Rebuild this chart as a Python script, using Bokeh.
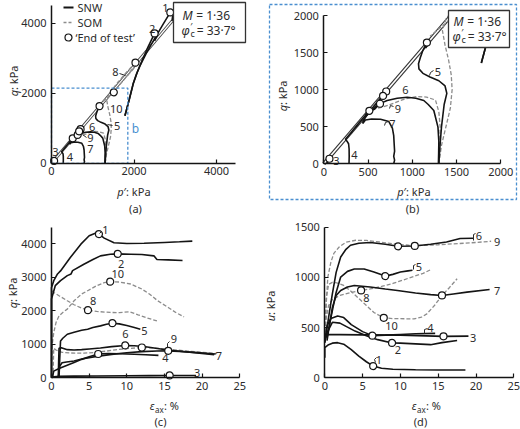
import numpy as np
from bokeh.plotting import figure
from bokeh.models import Range1d, LinearAxis, FixedTicker
from bokeh.layouts import column, row
from bokeh.embed import file_html
from bokeh.resources import INLINE
from bokeh.core.properties import value

# ============================ DATA ============================
snw_tests = ["1", "2", "3", "4", "5", "6", "7"]
som_tests = ["8", "9", "10"]
csl_M = 1.39          # slope of the drawn critical state line
csl_pmax_a = 2930     # end of CSL in panel (a), p' kPa

# (a)/(b) effective stress paths  p' (kPa), q (kPa)
sp1_p = [1780, 1880, 1980, 2060, 2150, 2300, 2500, 2700, 2880, 2940, 2920]
sp1_q = [1360, 1800, 2270, 2550, 2800, 3150, 3560, 3960, 4310, 4230, 4060]
sp2_p = [1780, 1880, 1980, 2080, 2200, 2350, 2500, 2560, 2500]
sp2_q = [1360, 1800, 2270, 2600, 2950, 3350, 3712, 3650, 3500]
sp3_p = [40, 45, 52, 60, 64]
sp3_q = [0, 20, 45, 60, 68]
sp4_p = [285, 287, 286, 280, 262, 245, 300, 380, 450, 515, 500, 470]
sp4_q = [0, 100, 200, 270, 305, 330, 410, 525, 625, 715, 700, 660]
sp5_p = [1300, 1310, 1330, 1360, 1390, 1370, 1300, 1200, 1120, 1075, 1070, 1090, 1120, 1150, 1165, 1185, 1150]
sp5_q = [0, 200, 500, 800, 950, 1050, 1120, 1170, 1220, 1280, 1350, 1430, 1530, 1600, 1635, 1620, 1560]
sp6_p = [1295, 1298, 1300, 1290, 1243, 1180, 1130, 1040, 942, 830, 716, 640, 615, 655, 705, 670, 620, 560, 510]
sp6_q = [0, 150, 300, 494, 719, 800, 854, 885, 898, 885, 854, 815, 835, 900, 975, 920, 855, 770, 700]
sp7_p = [790, 800, 790, 800, 795, 790, 775, 735, 641, 540, 470, 440, 445, 480, 540, 590, 635, 610, 570, 530]
sp7_q = [0, 50, 100, 170, 270, 380, 480, 570, 600, 605, 590, 545, 580, 645, 720, 775, 810, 780, 735, 710]
sp8_p = [2100, 1950, 1800, 1650, 1511, 1400, 1300, 1200]
sp8_q = [2850, 2650, 2450, 2240, 2029, 1920, 1820, 1720]
sp9_p = [1305, 1310, 1315, 1300, 1262, 1160, 1055, 904, 754, 650, 580, 545, 580, 630, 670, 640, 600, 540]
sp9_q = [0, 250, 500, 700, 860, 900, 908, 870, 800, 760, 745, 740, 790, 860, 915, 880, 820, 735]
sp10_p = [1300, 1330, 1380, 1430, 1450, 1440, 1410, 1370, 1340, 1380, 1480, 1620, 1780, 1920, 2036, 2060, 1950, 1800]
sp10_q = [0, 250, 500, 750, 1000, 1200, 1400, 1600, 1800, 1950, 2120, 2330, 2550, 2730, 2875, 2850, 2680, 2450]
end_p = [2880, 2500, 64, 515, 1165, 705, 635, 1511, 670, 2036]
end_q = [4310, 3712, 68, 715, 1635, 975, 810, 2029, 915, 2875]

# (c) deviator stress q (kPa) vs axial strain (%)
c1_e = [0, 0, 0.3, 0.8, 1.2, 2.5, 3.9, 5.0, 5.9, 6.3, 7.0, 8.3, 10.0, 12.3, 15.0, 17.0, 18.7]
c1_q = [0, 2690, 2900, 3100, 3190, 3590, 3990, 4240, 4320, 4290, 4170, 4030, 4010, 4015, 4040, 4060, 4080]
c2_e = [0, 0, 0.5, 1.2, 2.1, 2.6, 2.8, 4.3, 5.5, 6.5, 7.8, 8.8, 10.5, 12.0, 13.6, 14.0, 15.5, 17.4]
c2_q = [0, 2350, 2750, 2900, 3050, 3100, 3200, 3390, 3530, 3640, 3690, 3700, 3690, 3680, 3640, 3530, 3520, 3500]
c3_e = [0, 0.3, 1.0, 3.0, 6.0, 10.0, 13.0, 15.7, 19.2]
c3_q = [0, 30, 45, 50, 55, 60, 65, 70, 70]
c4_e = [0.1, 0.3, 1.0, 2.0, 3.0, 4.0, 5.0, 6.2, 7.5, 9.0, 11.0, 12.5, 14.2]
c4_q = [0, 200, 280, 370, 460, 550, 630, 710, 725, 720, 705, 690, 670]
c5_e = [1.0, 1.1, 1.2, 1.5, 2.1, 3.0, 4.0, 4.8, 5.5, 6.5, 7.3, 8.1, 9.0, 10.0, 11.0, 11.8]
c5_q = [0, 600, 1100, 1180, 1300, 1360, 1420, 1450, 1500, 1550, 1600, 1630, 1610, 1560, 1500, 1450]
c6_e = [0.9, 0.95, 1.0, 1.3, 2.1, 3.0, 4.0, 5.0, 6.5, 8.0, 9.8, 11.0, 12.5, 15.4, 18.0, 21.6]
c6_q = [0, 500, 880, 900, 840, 830, 840, 860, 890, 930, 965, 955, 925, 830, 770, 690]
c7_e = [0.9, 1.0, 1.1, 1.4, 2.0, 3.0, 4.0, 6.0, 8.0, 10.0, 12.0, 14.0, 15.5, 17.0, 19.0, 21.8]
c7_q = [0, 200, 350, 450, 470, 500, 560, 640, 700, 750, 780, 800, 805, 790, 760, 710]
c8_e = [0.05, 0.3, 1.0, 2.1, 3.0, 4.0, 4.85, 6.0, 7.8, 9.0, 10.4, 11.5, 12.5, 14.0]
c8_q = [2600, 2546, 2450, 2300, 2180, 2080, 2020, 1980, 1950, 1945, 1970, 1880, 1800, 1700]
c9_e = [0.2, 0.3, 0.6, 1.4, 2.5, 4.3, 6.0, 7.4, 9.0, 10.5, 12.0, 13.5, 15.4, 18.0, 22.0]
c9_q = [0, 880, 830, 760, 740, 735, 760, 800, 850, 880, 905, 890, 856, 800, 726]
c10_e = [0, 0.1, 0.3, 0.6, 1.0, 1.5, 2.1, 3.0, 4.0, 4.8, 6.0, 7.0, 7.8, 9.0, 10.5, 12.0, 13.0, 14.1, 15.5, 16.5, 17.6]
c10_q = [500, 1000, 1350, 1650, 1850, 1950, 2050, 2300, 2500, 2600, 2750, 2840, 2870, 2860, 2800, 2650, 2500, 2300, 2100, 1950, 1820]
endc_e = [6.3, 8.8, 15.7, 6.2, 8.1, 9.8, 15.5, 4.85, 12.0, 7.8]
endc_q = [4290, 3700, 70, 710, 1630, 965, 805, 2020, 905, 2870]

# (d) pore pressure u (kPa) vs axial strain (%)
d1_e = [0, 0, 0.5, 1.0, 1.7, 2.5, 3.5, 4.5, 5.5, 6.4, 7.5, 9.0, 12.0, 15.0, 18.6]
d1_u = [200, 300, 330, 345, 350, 335, 280, 215, 160, 117, 95, 85, 80, 78, 78]
d2_e = [0, 0.3, 1.0, 2.0, 3.0, 4.0, 5.5, 7.0, 8.9, 10.0, 12.0, 14.0, 15.5, 17.5]
d2_u = [350, 450, 553, 545, 505, 465, 420, 380, 347, 345, 338, 330, 350, 372]
d3_e = [0, 0.3, 2.0, 5.0, 10.0, 15.7, 19.0]
d3_u = [400, 430, 430, 428, 425, 413, 415]
d4_e = [0, 0.3, 0.8, 1.7, 2.5, 3.5, 5.0, 6.3, 8.0, 10.0, 12.0, 14.6]
d4_u = [350, 520, 590, 615, 600, 530, 460, 420, 425, 432, 438, 442]
d5_e = [0.3, 0.6, 1.0, 1.5, 2.1, 3.0, 3.9, 5.2, 6.5, 8.0, 9.0, 10.0, 11.0, 11.6]
d5_u = [370, 520, 670, 850, 1003, 1060, 1083, 1083, 1053, 1013, 1030, 1053, 1065, 1072]
d6_e = [0, 0.3, 0.6, 1.0, 1.5, 2.1, 2.8, 3.4, 4.5, 6.0, 8.0, 9.7, 11.9, 14.0, 16.1, 17.9, 19.6]
d6_u = [370, 500, 650, 837, 1050, 1203, 1280, 1320, 1340, 1347, 1330, 1310, 1313, 1330, 1353, 1387, 1390]
d7_e = [0.3, 0.6, 1.0, 1.5, 2.1, 3.0, 3.9, 6.0, 8.0, 9.6, 12.0, 14.0, 15.5, 17.0, 18.8, 21.8]
d7_u = [400, 520, 700, 820, 870, 905, 920, 905, 885, 870, 845, 828, 820, 835, 853, 880]
d8_e = [0, 0.2, 0.5, 1.0, 2.0, 3.5, 4.8, 6.0, 7.5, 9.0, 11.0, 13.0, 14.0]
d8_u = [400, 600, 720, 780, 820, 850, 870, 885, 910, 940, 990, 1040, 1077]
d9_e = [0, 0.2, 0.4, 0.8, 1.2, 1.9, 2.8, 4.1, 5.5, 7.2, 9.0, 11.1, 13.0, 15.0, 17.7, 20.0, 22.0]
d9_u = [400, 750, 1003, 1150, 1240, 1303, 1350, 1370, 1368, 1353, 1335, 1320, 1318, 1325, 1337, 1348, 1360]
d10_e = [0, 0.2, 0.5, 1.0, 1.6, 2.5, 3.5, 4.5, 5.5, 6.5, 7.8, 9.0, 10.5, 11.8, 12.8, 13.5, 14.5, 15.5, 16.5, 17.5]
d10_u = [400, 800, 930, 950, 945, 920, 860, 790, 720, 650, 597, 590, 588, 587, 605, 637, 720, 820, 900, 987]
endd_e = [6.4, 8.9, 15.7, 6.3, 8.0, 9.7, 15.5, 4.8, 11.9, 7.8]
endd_u = [117, 347, 413, 420, 1013, 1310, 820, 870, 1313, 597]

# axis ticks
ticks_a = [0, 2000, 4000]
ticks_b = [0, 500, 1000, 1500, 2000]
ticks_q_c = [0, 1000, 2000, 3000, 4000]
ticks_u_d = [0, 500, 1000, 1500]
ticks_eps = [0, 5, 10, 15, 20, 25]

# ============================ STYLE / LAYOUT ============================
FONT = "Noto Sans"
TXT = "#2b2b2b"
BLK = "#141414"
GRY = "#8c8c8c"
BLUE = "#4a8fd0"

# panel geometry (global pixel of data origin and pixel per unit)
PA = dict(gx0=0, gy0=0, W=260, H=217, ox=51.0, oy=162.8, sx=0.04125, sy=0.035)
PB = dict(gx0=260, gy0=0, W=260, H=217, ox=323.3, oy=163.3, sx=0.0885, sy=0.07415)
PC = dict(gx0=0, gy0=217, W=260, H=212, ox=51.0, oy=377.3, sx=7.53, sy=0.0335)
PD = dict(gx0=260, gy0=217, W=260, H=212, ox=324.3, oy=377.3, sx=7.56, sy=0.1004)


def dx(P, gx):
    return (gx - P["ox"]) / P["sx"]


def dy(P, gy):
    return (P["oy"] - gy) / P["sy"]


def make_fig(P):
    xr = Range1d(dx(P, P["gx0"]), dx(P, P["gx0"] + P["W"]))
    yr = Range1d(dy(P, P["gy0"] + P["H"]), dy(P, P["gy0"]))
    p = figure(width=P["W"], height=P["H"], x_range=xr, y_range=yr,
               output_backend="svg", toolbar_location=None,
               x_axis_location=None, y_axis_location=None,
               min_border_left=0, min_border_right=0, min_border_top=0, min_border_bottom=0)
    p.outline_line_color = None
    p.grid.grid_line_color = None
    p.background_fill_color = "white"
    p.border_fill_color = "white"
    return p


def add_axes(p, xticks, xb, yticks, yb):
    xa = LinearAxis(fixed_location=0, bounds=xb, ticker=FixedTicker(ticks=xticks, minor_ticks=[]))
    ya = LinearAxis(fixed_location=0, bounds=yb, ticker=FixedTicker(ticks=yticks, minor_ticks=[]))
    for a in (xa, ya):
        a.axis_line_color = BLK
        a.axis_line_width = 1.5
        a.major_tick_line_color = BLK
        a.major_tick_line_width = 1.2
        a.major_tick_in = 4
        a.major_tick_out = 0
        a.minor_tick_line_color = None
        a.major_label_text_font = FONT
        a.major_label_text_font_size = "11px"
        a.major_label_text_color = TXT
    xa.major_label_standoff = 4
    ya.major_label_standoff = 5
    p.add_layout(xa, "below")
    p.add_layout(ya, "left")


def txt(p, P, gx, gy, s, size=11, align="center", base="middle", style="normal",
        color=TXT, angle=0.0):
    p.text(x=[dx(P, gx)], y=[dy(P, gy)], text=[s], text_font=value(FONT),
           text_font_size=f"{size}px", text_align=align, text_baseline=base,
           text_font_style=style, text_color=color, angle=angle)


def seg(p, P, pts, color=TXT, width=1.0, dash="solid"):
    p.line([dx(P, a) for a, b in pts], [dy(P, b) for a, b in pts],
           line_color=color, line_width=width, line_dash=dash)


def ylabel(p, P, gx, gj, sym):
    txt(p, P, gx, gj, sym, style="italic", align="right", angle=np.pi / 2)
    txt(p, P, gx, gj, ": kPa", align="left", angle=np.pi / 2)


def xlabel_p(p, P, gj, gy):
    txt(p, P, gj, gy, "p", style="italic", align="right")
    txt(p, P, gj, gy, "\u2032: kPa", align="left")


def xlabel_eps(p, P, gj, gy):
    txt(p, P, gj, gy, "\u03b5", style="italic", align="right")
    txt(p, P, gj + 0.5, gy + 3.5, "ax", size=8, align="left")
    txt(p, P, gj + 9.5, gy, ": %", align="left")


def mbox(p, P, l, t, r, b, tx, y1, y2):
    xs = [dx(P, l), dx(P, r), dx(P, r), dx(P, l), dx(P, l)]
    ys = [dy(P, t), dy(P, t), dy(P, b), dy(P, b), dy(P, t)]
    p.patch(xs, ys, fill_color="white", line_color="#333333", line_width=1.3)
    j = tx + 10.5
    txt(p, P, j, y1, "M", size=12, style="italic", align="right")
    txt(p, P, j + 3.5, y1, "= 1\u00b736", size=12, align="left")
    j2 = tx + 7.5
    txt(p, P, j2, y2, "\u03c6", size=12, style="italic", align="right")
    txt(p, P, j2 + 0.5, y2 - 4, "\u2032", size=9, align="left")
    txt(p, P, j2 + 0.8, y2 + 3, "c", size=9, align="left")
    txt(p, P, j2 + 7, y2, "= 33\u00b77\u00b0", size=12, align="left")


def clip_path(xs, ys, x0, x1, y0, y1):
    ox, oy = [], []
    for i in range(len(xs) - 1):
        ax, ay, bx, by = xs[i], ys[i], xs[i + 1], ys[i + 1]
        ddx, ddy = bx - ax, by - ay
        t0, t1, ok = 0.0, 1.0, True
        for pk, qk in ((-ddx, ax - x0), (ddx, x1 - ax), (-ddy, ay - y0), (ddy, y1 - ay)):
            if pk == 0:
                if qk < 0:
                    ok = False
                    break
            else:
                r = qk / pk
                if pk < 0:
                    if r > t1:
                        ok = False
                        break
                    t0 = max(t0, r)
                else:
                    if r < t0:
                        ok = False
                        break
                    t1 = min(t1, r)
        if not ok:
            continue
        sx_, sy_ = ax + t0 * ddx, ay + t0 * ddy
        ex, ey = ax + t1 * ddx, ay + t1 * ddy
        if ox and not np.isnan(ox[-1]) and abs(ox[-1] - sx_) < 1e-6 and abs(oy[-1] - sy_) < 1e-6:
            ox.append(ex)
            oy.append(ey)
        else:
            if ox:
                ox.append(np.nan)
                oy.append(np.nan)
            ox += [sx_, ex]
            oy += [sy_, ey]
    return ox, oy


paths = {
    "1": (sp1_p, sp1_q), "2": (sp2_p, sp2_q), "3": (sp3_p, sp3_q), "4": (sp4_p, sp4_q),
    "5": (sp5_p, sp5_q), "6": (sp6_p, sp6_q), "7": (sp7_p, sp7_q), "8": (sp8_p, sp8_q),
    "9": (sp9_p, sp9_q), "10": (sp10_p, sp10_q),
}
curves_c = {
    "1": (c1_e, c1_q), "2": (c2_e, c2_q), "3": (c3_e, c3_q), "4": (c4_e, c4_q),
    "5": (c5_e, c5_q), "6": (c6_e, c6_q), "7": (c7_e, c7_q), "8": (c8_e, c8_q),
    "9": (c9_e, c9_q), "10": (c10_e, c10_q),
}
curves_d = {
    "1": (d1_e, d1_u), "2": (d2_e, d2_u), "3": (d3_e, d3_u), "4": (d4_e, d4_u),
    "5": (d5_e, d5_u), "6": (d6_e, d6_u), "7": (d7_e, d7_u), "8": (d8_e, d8_u),
    "9": (d9_e, d9_u), "10": (d10_e, d10_u),
}


def draw_curve(p, key, xs, ys):
    if key in som_tests:
        p.line(xs, ys, line_color=GRY, line_width=1.3, line_dash="4 2")
    else:
        p.line(xs, ys, line_color=BLK, line_width=1.6)


def circles(p, xs, ys):
    p.scatter(xs, ys, marker="circle", size=7, fill_color="white", line_color=BLK, line_width=1.2)


# ============================ PANEL (a) ============================
pa = make_fig(PA)
add_axes(pa, ticks_a, (0, 4450), ticks_a, (0, 4500))
csl_x = [0, csl_pmax_a]
pa.line(csl_x, [csl_M * v for v in csl_x], line_color="#444444", line_width=3.0)
pa.line(csl_x, [csl_M * v for v in csl_x], line_color="white", line_width=1.2)
for k in som_tests + snw_tests:
    draw_curve(pa, k, *paths[k])
circles(pa, end_p, end_q)
# zoom window marker
pa.line([0, 1850, 1850, 0], [2150, 2150, 0, 0], line_color=BLUE, line_width=1.3, line_dash="3 2")
pa.line([0, 0], [0, 2150], line_color=BLUE, line_width=1.3, line_dash="3 2")
txt(pa, PA, 135, 128, "b", size=12, color=BLUE)
mbox(pa, PA, 173, 2, 245, 42, 181.7, 15, 30)
# legend
seg(pa, PA, [(63, 7), (73, 7)], color=BLK, width=2)
txt(pa, PA, 77, 7, "SNW", align="left")
seg(pa, PA, [(63, 22), (73, 22)], color=GRY, width=1.3, dash="3 2")
txt(pa, PA, 77, 22, "SOM", align="left")
pa.scatter([dx(PA, 68)], [dy(PA, 37)], marker="circle", size=7, fill_color="white", line_color=BLK, line_width=1.2)
txt(pa, PA, 75, 37, "\u2018End of test\u2019", align="left")
for s, gx, gy in [("1", 165, 7), ("2", 151.7, 28.3), ("8", 115, 71.7), ("10", 115.7, 108.3),
                  ("5", 116.7, 125), ("6", 91.7, 126.7), ("9", 90, 137.3), ("7", 90, 148.3),
                  ("3", 55, 151.7), ("4", 69.3, 156.7)]:
    txt(pa, PA, gx, gy, s)
seg(pa, PA, [(119, 73), (125, 75)])
seg(pa, PA, [(112, 125), (107, 124)])
seg(pa, PA, [(86, 137), (82, 134)])
ylabel(pa, PA, 13, 89.5, "q")
xlabel_p(pa, PA, 123, 191)
txt(pa, PA, 135, 208, "(a)")

# ============================ PANEL (b) ============================
pb = make_fig(PB)
add_axes(pb, ticks_b, (0, 2000), ticks_b, (0, 2000))
cx, cy = clip_path([0, csl_pmax_a], [0, csl_M * csl_pmax_a], -50, 2000, -50, 2000)
pb.line(cx, cy, line_color="#333333", line_width=3.8)
pb.line(cx, cy, line_color="white", line_width=1.6)
for k in som_tests + snw_tests:
    xs, ys = clip_path(paths[k][0], paths[k][1], -50, 2000, -50, 2000)
    draw_curve(pb, k, xs, ys)
bp = [a for a, b in zip(end_p, end_q) if a <= 2000 and b <= 2000]
bq = [b for a, b in zip(end_p, end_q) if a <= 2000 and b <= 2000]
circles(pb, bp, bq)
mbox(pb, PB, 448, 10, 509, 47, 452.7, 21, 36)
for s, gx, gy in [("3", 336, 160.7), ("4", 354, 154), ("7", 392, 123.3), ("9", 397.5, 108.3),
                  ("6", 405, 89.3), ("5", 437.5, 71.7)]:
    txt(pb, PB, gx, gy, s)
seg(pb, PB, [(433, 70), (430, 72), (429, 75)])
seg(pb, PB, [(393, 106), (390, 105), (389, 108)])
seg(pb, PB, [(388, 121), (385, 122), (384, 125)])
ylabel(pb, PB, 282, 104.5, "q")
xlabel_p(pb, PB, 403, 191)
txt(pb, PB, 412, 208, "(b)")
# dashed frame around panel (b)
bx = [dx(PB, v) for v in (269, 516, 516, 269, 269)]
by = [dy(PB, v) for v in (4, 4, 199, 199, 4)]
pb.line(bx, by, line_color=BLUE, line_width=1.3, line_dash="3 2")

# ============================ PANEL (c) ============================
pc = make_fig(PC)
add_axes(pc, ticks_eps, (0, 25), ticks_q_c, (0, 4500))
for k in som_tests + snw_tests:
    draw_curve(pc, k, *curves_c[k])
circles(pc, endc_e, endc_q)
for s, gx, gy in [("1", 105, 229.3), ("2", 120.7, 263.3), ("10", 117.3, 273.3), ("8", 92.7, 300.7),
                  ("5", 144, 330), ("6", 125, 333), ("9", 173.3, 338.3), ("7", 218.3, 355),
                  ("4", 165, 357.7), ("3", 196.7, 372.7)]:
    txt(pc, PC, gx, gy, s)
seg(pc, PC, [(101, 231), (99, 233)])
seg(pc, PC, [(169, 341), (167, 343), (167, 347)])
ylabel(pc, PC, 12, 301.5, "q")
xlabel_eps(pc, PC, 154, 405)
txt(pc, PC, 160, 421, "(c)")

# ============================ PANEL (d) ============================
pd_ = make_fig(PD)
add_axes(pd_, ticks_eps, (0, 25), ticks_u_d, (0, 1500))
for k in som_tests + snw_tests:
    draw_curve(pd_, k, *curves_d[k])
circles(pd_, endd_e, endd_u)
for s, gx, gy in [("6", 478.3, 235), ("9", 496.7, 241.7), ("5", 418.3, 266.7), ("7", 496.7, 290),
                  ("8", 366, 297.3), ("10", 391, 325), ("4", 430, 327.3), ("3", 472.7, 337.3),
                  ("2", 397.3, 349.3), ("1", 378.3, 359)]:
    txt(pd_, PD, gx, gy, s)
seg(pd_, PD, [(375, 362), (374, 359), (376, 357)])
seg(pd_, PD, [(424, 333), (424, 329), (427, 328)])
seg(pd_, PD, [(413, 269), (413, 265), (415, 264)])
seg(pd_, PD, [(473, 240), (473, 234), (475, 233)])
ylabel(pd_, PD, 270, 314.5, "u")
xlabel_eps(pd_, PD, 416, 405)
txt(pd_, PD, 420, 421, "(d)")

layout = column(row(pa, pb, spacing=0), row(pc, pd_, spacing=0), spacing=0)
open("out.html", "w").write(file_html(layout, INLINE))
